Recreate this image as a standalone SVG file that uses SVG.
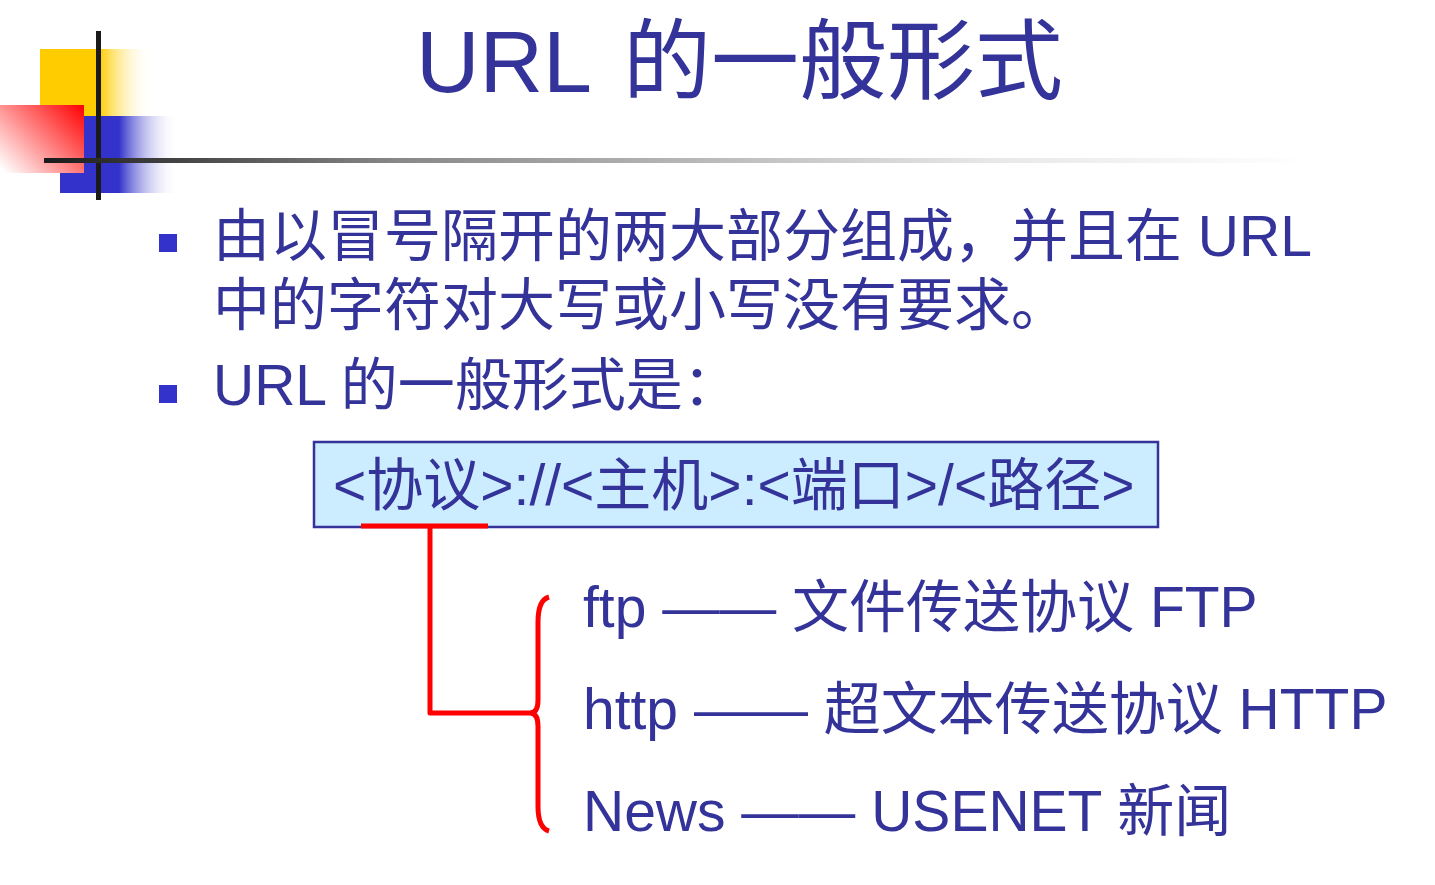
<svg xmlns="http://www.w3.org/2000/svg" width="1435" height="885" viewBox="0 0 1435 885">
  <style>
    .t { font-family: "Liberation Sans", "Noto Sans CJK SC", sans-serif; fill: #333399; }
    .body { font-size: 57px; }
    .title { font-size: 88px; }
    .bullet { fill: #3333CC; }
    .red { fill: none; stroke: #FF0000; stroke-width: 5; }
  </style>
  <defs>
    <linearGradient id="gY" gradientUnits="userSpaceOnUse" x1="40" y1="0" x2="152" y2="0">
      <stop offset="0" stop-color="#FFCC00"/>
      <stop offset="0.53" stop-color="#FFCC00"/>
      <stop offset="1" stop-color="#FFFFFF" stop-opacity="0"/>
    </linearGradient>
    <linearGradient id="gB" gradientUnits="userSpaceOnUse" x1="60" y1="0" x2="178" y2="0">
      <stop offset="0" stop-color="#3333CC"/>
      <stop offset="0.5" stop-color="#3333CC"/>
      <stop offset="1" stop-color="#FFFFFF" stop-opacity="0"/>
    </linearGradient>
    <linearGradient id="gR" gradientUnits="userSpaceOnUse" x1="84" y1="105" x2="10" y2="178">
      <stop offset="0" stop-color="#FF0000"/>
      <stop offset="1" stop-color="#FFFFFF"/>
    </linearGradient>
    <linearGradient id="gL" gradientUnits="userSpaceOnUse" x1="44" y1="0" x2="1310" y2="0">
      <stop offset="0" stop-color="#1A1A1A"/>
      <stop offset="0.12" stop-color="#4A4A4A"/>
      <stop offset="0.28" stop-color="#888888"/>
      <stop offset="0.75" stop-color="#E8E8E8"/>
      <stop offset="1" stop-color="#FFFFFF"/>
    </linearGradient>
  </defs>

  <g id="decoration">
    <rect x="40" y="49" width="112" height="67" fill="url(#gY)"/>
    <rect x="60" y="116" width="118" height="77" fill="url(#gB)"/>
    <rect x="0" y="105" width="84" height="68" fill="url(#gR)"/>
    <rect x="96" y="31" width="5" height="169" fill="#1A1A1A"/>
    <rect x="44" y="158" width="1266" height="5" fill="url(#gL)"/>
  </g>

  <g id="title">
    <text class="t title" x="416" y="92">URL <tspan x="623">的一般形式</tspan></text>
  </g>

  <g id="bullets">
    <rect class="bullet" x="159" y="234" width="18" height="18"/>
    <text class="t body" x="213" y="256">由以冒号隔开的两大部分组成，并且在 URL</text>
    <text class="t body" x="213" y="325">中的字符对大写或小写没有要求。</text>
    <rect class="bullet" x="159" y="385" width="18" height="18"/>
    <text class="t body" x="213" y="405">URL 的一般形式是：</text>
  </g>

  <g id="url-box">
    <rect x="314" y="442" width="844" height="85" fill="#CCECFF" stroke="#333399" stroke-width="2.5"/>
    <text class="t body" x="333" y="505">&lt;协议&gt;://&lt;主机&gt;:&lt;端口&gt;/&lt;路径&gt;</text>
  </g>

  <g id="connectors">
    <line class="red" x1="361" y1="526" x2="488" y2="526"/>
    <path class="red" d="M430,526 L430,713 L530,713" stroke-linejoin="round"/>
    <path class="red" d="M549,597 Q538,600 538,622 L538,700 Q538,713 530,713 Q538,713 538,726 L538,806 Q538,828 549,831"/>
  </g>

  <g id="item-ftp">
    <text class="t body" x="583" y="627">ftp —— 文件传送协议 FTP</text>
  </g>
  <g id="item-http">
    <text class="t body" x="583" y="729">http —— 超文本传送协议 HTTP</text>
  </g>
  <g id="item-news">
    <text class="t body" x="583" y="831">News —— USENET 新闻</text>
  </g>
</svg>
